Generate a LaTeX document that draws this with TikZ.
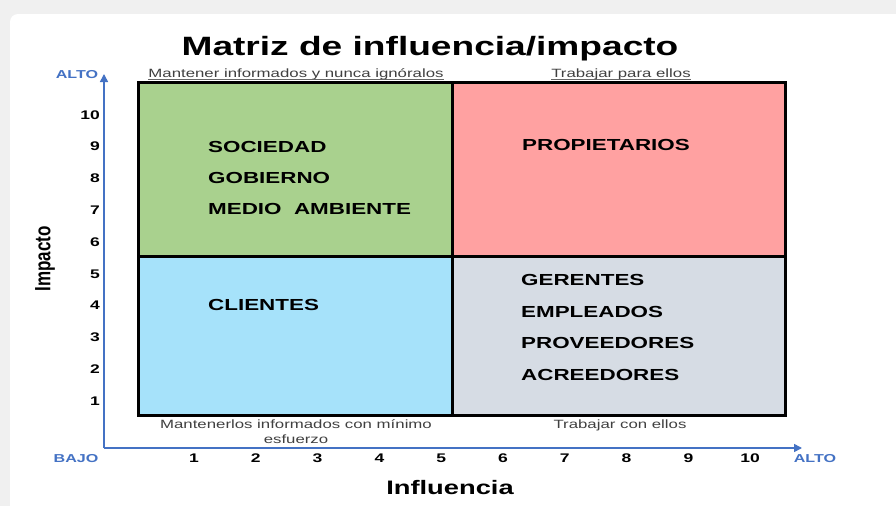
\documentclass[tikz,border=0pt]{standalone}
\usepackage{fontspec}
\setmainfont{Liberation Sans}
\newfontfamily\wide[FakeStretch=1.4]{Liberation Sans}
\usetikzlibrary{arrows.meta}
\definecolor{verde}{RGB}{169,209,142}
\definecolor{rosa}{RGB}{255,161,161}
\definecolor{celeste}{RGB}{166,226,250}
\definecolor{gris}{RGB}{214,220,228}
\definecolor{azul}{RGB}{68,114,196}
\definecolor{fondo}{RGB}{240,240,240}
\tikzset{
  quad/.style={draw=black,line width=3pt},
  axis/.style={azul,line width=1.6pt,-{Triangle[length=8pt,width=8pt]}},
  item/.style={anchor=base west,inner sep=0pt,font=\wide\bfseries\fontsize{16pt}{19pt}\selectfont},
  tick/.style={inner sep=0pt,font=\wide\bfseries\fontsize{12.5pt}{15pt}\selectfont},
  axlbl/.style={anchor=base,inner sep=0pt,azul,font=\wide\bfseries\fontsize{11.5pt}{14pt}\selectfont},
  estrategia/.style={anchor=base,inner sep=0pt,black!75,font=\wide\fontsize{12pt}{14.5pt}\selectfont,align=center}
}
\begin{document}
\begin{tikzpicture}[x=1pt,y=-1pt]
\useasboundingbox (0,0) rectangle (896,506);
\fill[fondo] (0,0) rectangle (896,506);
\fill[white,rounded corners=8pt] (10,14) rectangle (910,520);
% titulo
\node[anchor=base,inner sep=0pt,font=\wide\bfseries\fontsize{26.5pt}{30pt}\selectfont] (titulo) at (430,55) {Matriz de influencia/impacto};
% cuadrantes
\draw[quad,fill=verde] (138,82) rectangle (452,256);
\draw[quad,fill=rosa] (452,82) rectangle (785,256);
\draw[quad,fill=celeste] (138,256) rectangle (452,415);
\draw[quad,fill=gris] (452,256) rectangle (785,415);
% ejes
\coordinate (O) at (104,448);
\coordinate (ytop) at (104,74);
\coordinate (xend) at (802,448);
\draw[axis] (O) -- (ytop);
\draw[axis] (O) -- (xend);
\foreach \k in {1,...,10}{
  \node[tick,anchor=base] (xt\k) at ({194+(\k-1)*61.8},462) {\k};
  \node[tick,anchor=base east] (yt\k) at (100,{119+(10-\k)*31.8}) {\k};}
\node[axlbl] (altoy) at (77,78) {ALTO};
\node[axlbl] (bajo) at (76,462) {BAJO};
\node[axlbl] (altox) at (815,462) {ALTO};
\node[rotate=90,font=\bfseries\fontsize{17pt}{20pt}\selectfont] (impacto) at (45,259) {\scalebox{1}[1.3]{Impacto}};
\node[anchor=base,inner sep=0pt,font=\wide\bfseries\fontsize{19.5pt}{23pt}\selectfont] (influencia) at (450,494) {Influencia};
% estrategias
\node[estrategia] (estTL) at (296,77) {Mantener informados y nunca ignóralos};
\node[estrategia] (estTR) at (621,77) {Trabajar para ellos};
\draw[black!60,line width=0.6pt] ([yshift=-2pt]estTL.base west) -- ([yshift=-2pt]estTL.base east);
\draw[black!60,line width=0.6pt] ([yshift=-2pt]estTR.base west) -- ([yshift=-2pt]estTR.base east);
\node[estrategia] (estBL) at (296,443) {Mantenerlos informados con mínimo\\esfuerzo};
\node[estrategia] (estBR) at (620,428) {Trabajar con ellos};
% actores
\node[item] (soc) at (208,152) {SOCIEDAD};
\node[item] (gob) at (208,183) {GOBIERNO};
\node[item] (med) at (208,214) {MEDIO\ \ AMBIENTE};
\node[item] (prop) at (522,150) {PROPIETARIOS};
\node[item] (cli) at (208,310) {CLIENTES};
\node[item] (ger) at (521,285) {GERENTES};
\node[item] (emp) at (521,317) {EMPLEADOS};
\node[item] (prov) at (521,348) {PROVEEDORES};
\node[item] (acr) at (521,380) {ACREEDORES};
\end{tikzpicture}
\end{document}
